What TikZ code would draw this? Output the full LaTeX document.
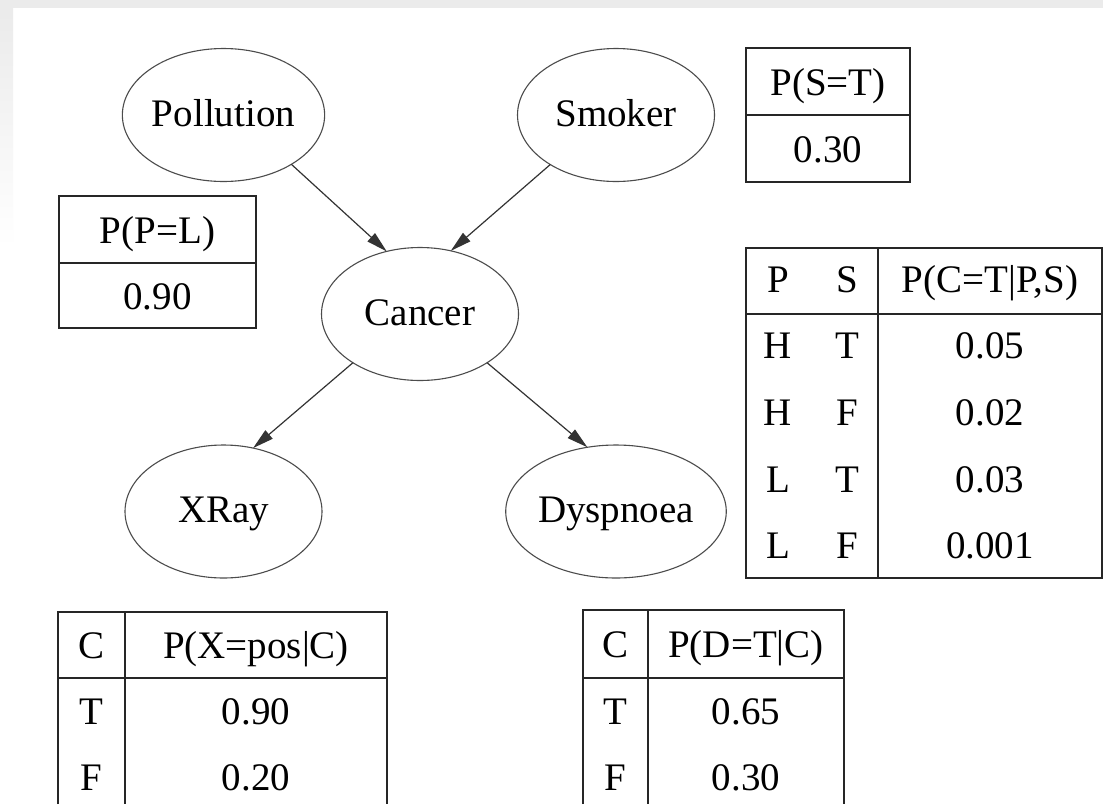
\documentclass[tikz,border=0pt]{standalone}
\usepackage{fontspec}
\setmainfont{Liberation Serif}
\usetikzlibrary{arrows.meta,shapes.geometric}
\begin{document}
\begin{tikzpicture}[x=1pt,y=-1pt,
  var/.style={ellipse,draw=black!70,line width=1.1pt,minimum width=197pt,minimum height=133pt,
    inner sep=0pt,outer sep=0pt,font=\fontsize{39}{47}\selectfont,text height=22pt,text depth=0pt},
  cell/.style={inner sep=0pt,font=\fontsize{39}{47}\selectfont,text height=27pt,text depth=0pt},
  tab/.style={draw=black!85,line width=2pt},
  edge/.style={draw=black!80,line width=1.2pt,-{Triangle[length=21pt,width=11pt]}}
]
\useasboundingbox (0,0) rectangle (1103,804);
\fill[white] (0,0) rectangle (1103,804);
\fill[black!8] (0,0) rectangle (1103,8);
\shade[top color=black!8,bottom color=white] (0,8) rectangle (13,247);

% variables
\node[var] (pol) at (223.5,115) {Pollution};
\node[var] (smk) at (616,115) {Smoker};
\node[var] (can) at (420,314) {Cancer};
\node[var] (xr) at (223.5,511.5) {XRay};
\node[var] (dys) at (616,511.5) {Dyspnoea};

% edges
\draw[edge] (pol.-36) -- (can.118);
\draw[edge] (smk.-143) -- (can.64);
\draw[edge] (can.-144) -- (xr.65);
\draw[edge] (can.-36) -- (dys.114);

% P(P=L)
\draw[tab] (59,196) rectangle (256,328);
\draw[tab] (59,263) -- (256,263);
\node[cell] (ppl) at (157.5,229.5) {P(P=L)};
\node[cell] (pplv) at (157.5,295.5) {0.90};

% P(S=T)
\draw[tab] (746,48) rectangle (910,182);
\draw[tab] (746,115) -- (910,115);
\node[cell] (pst) at (828,81.5) {P(S=T)};
\node[cell] (pstv) at (828,148.5) {0.30};

% P(C=T|P,S)
\draw[tab] (746,248) rectangle (1102,578);
\draw[tab] (746,314) -- (1102,314);
\draw[tab] (878,248) -- (878,578);
\node[cell] (ch1) at (778,279) {P};
\node[cell] (ch2) at (847,279) {S};
\node[cell] (ch3) at (990,279) {P(C=T|P,S)};
\node[cell] (c11) at (778,345) {H};
\node[cell] (c12) at (847,345) {T};
\node[cell] (c13) at (990,345) {0.05};
\node[cell] (c21) at (778,412) {H};
\node[cell] (c22) at (847,412) {F};
\node[cell] (c23) at (990,412) {0.02};
\node[cell] (c31) at (778,479) {L};
\node[cell] (c32) at (847,479) {T};
\node[cell] (c33) at (990,479) {0.03};
\node[cell] (c41) at (778,545) {L};
\node[cell] (c42) at (847,545) {F};
\node[cell] (c43) at (990,545) {0.001};

% P(X=pos|C)
\draw[tab] (58,804) -- (58,612) -- (387,612) -- (387,804);
\draw[tab] (58,678) -- (387,678);
\draw[tab] (125,612) -- (125,804);
\node[cell] (xh1) at (91.5,645) {C};
\node[cell] (xh2) at (256,645) {P(X=pos|C)};
\node[cell] (x11) at (91.5,711) {T};
\node[cell] (x12) at (256,711) {0.90};
\node[cell] (x21) at (91.5,777) {F};
\node[cell] (x22) at (256,777) {0.20};

% P(D=T|C)
\draw[tab] (583,804) -- (583,610) -- (844,610) -- (844,804);
\draw[tab] (583,678) -- (844,678);
\draw[tab] (648,610) -- (648,804);
\node[cell] (dh1) at (615.5,644) {C};
\node[cell] (dh2) at (746,644) {P(D=T|C)};
\node[cell] (d11) at (615.5,711) {T};
\node[cell] (d12) at (746,711) {0.65};
\node[cell] (d21) at (615.5,777) {F};
\node[cell] (d22) at (746,777) {0.30};
\end{tikzpicture}
\end{document}
